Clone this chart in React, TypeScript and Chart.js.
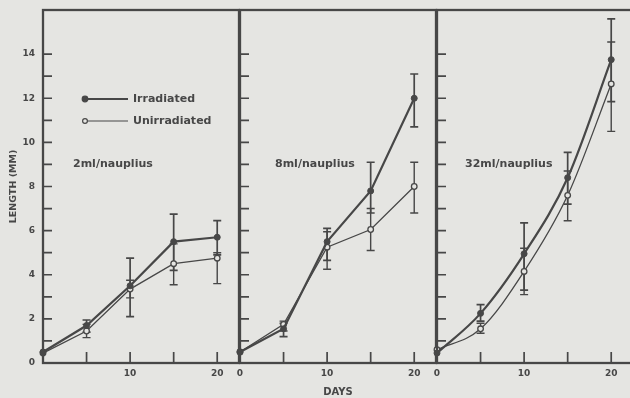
import React, { useEffect, useRef } from 'react';
import { Chart, registerables } from 'chart.js';
Chart.register(...registerables);

const days = [0, 5, 10, 15, 20];
const yTickLabels = [0, 2, 4, 6, 8, 10, 12, 14];
const yTickMarks = [1, 2, 3, 4, 5, 6, 7, 8, 9, 10, 11, 12, 13, 14];
const xTickMarks = [5, 10, 15, 20];
const xTicksAll = [0, 5, 10, 15, 20];
const xLabelsFirst = [10, 20];
const xLabelsOther = [0, 10, 20];

const panelLabels = ['2ml/nauplius', '8ml/nauplius', '32ml/nauplius'];
const seriesNames = ['Irradiated', 'Unirradiated'];
const yTitle = 'LENGTH (MM)';
const xTitle = 'DAYS';

// 2 ml / nauplius
const irr2 = [0.5, 1.7, 3.5, 5.5, 5.7];
const irr2Lo = [null, 1.4, 2.1, 4.2, 4.9];
const irr2Hi = [null, 1.95, 4.75, 6.75, 6.45];
const un2 = [0.45, 1.45, 3.35, 4.5, 4.75];
const un2Lo = [null, 1.15, 2.95, 3.55, 3.6];
const un2Hi = [null, 1.75, 3.75, 5.4, 5.0];

// 8 ml / nauplius
const irr8 = [0.5, 1.55, 5.5, 7.8, 12.0];
const irr8Lo = [null, 1.2, 4.65, 6.8, 10.7];
const irr8Hi = [null, 1.8, 6.1, 9.1, 13.1];
const un8 = [0.5, 1.75, 5.25, 6.05, 8.0];
const un8Lo = [null, 1.45, 4.25, 5.1, 6.8];
const un8Hi = [null, 1.9, 5.95, 7.0, 9.1];

// 32 ml / nauplius
const irr32 = [0.45, 2.25, 4.95, 8.4, 13.75];
const irr32Lo = [null, 1.9, 3.3, 7.2, 11.85];
const irr32Hi = [null, 2.65, 6.35, 9.55, 15.6];
const un32 = [0.6, 1.55, 4.15, 7.6, 12.65];
const un32Lo = [null, 1.35, 3.1, 6.45, 10.5];
const un32Hi = [null, 1.8, 5.2, 8.7, 14.55];

const INK = '#474747';
const BG = '#e5e5e2';
const FONT = '"DejaVu Sans", sans-serif';

const decorPlugin = {
  id: 'decor',
  beforeDatasetsDraw(chart: any) {
    const ctx = chart.ctx;
    const ys = chart.scales.y;
    chart.data.datasets.forEach((ds: any, i: number) => {
      const meta = chart.getDatasetMeta(i);
      ctx.save();
      ctx.strokeStyle = INK;
      ctx.lineWidth = i === 0 ? 1.7 : 1.4;
      meta.data.forEach((pt: any, j: number) => {
        const lo = ds.errLo[j];
        const hi = ds.errHi[j];
        if (lo == null || hi == null) return;
        const x = pt.x;
        const y1 = ys.getPixelForValue(lo);
        const y2 = ys.getPixelForValue(hi);
        ctx.beginPath();
        ctx.moveTo(x, y1);
        ctx.lineTo(x, y2);
        ctx.moveTo(x - 4, y1);
        ctx.lineTo(x + 4, y1);
        ctx.moveTo(x - 4, y2);
        ctx.lineTo(x + 4, y2);
        ctx.stroke();
      });
      ctx.restore();
    });
  },
  afterDraw(chart: any, _args: any, opts: any) {
    const ctx = chart.ctx;
    const a = chart.chartArea;
    const x = chart.scales.x;
    const y = chart.scales.y;
    ctx.save();
    ctx.strokeStyle = INK;
    ctx.lineWidth = 1.7;
    ctx.beginPath();
    yTickMarks.forEach((v) => {
      const py = y.getPixelForValue(v);
      ctx.moveTo(a.left, py);
      ctx.lineTo(a.left + 9, py);
    });
    xTickMarks.forEach((v) => {
      const px = x.getPixelForValue(v);
      ctx.moveTo(px, a.bottom);
      ctx.lineTo(px, a.bottom - 11);
    });
    ctx.stroke();
    ctx.lineWidth = 2.3;
    ctx.strokeRect(a.left, a.top, a.right - a.left, a.bottom - a.top);

    ctx.fillStyle = INK;
    ctx.textBaseline = 'middle';
    ctx.textAlign = 'left';
    ctx.font = `bold 11px ${FONT}`;
    ctx.fillText(opts.label, a.left + opts.labelDx, a.top + 154);

    if (opts.legend) {
      const cx = a.left + 42;
      const rows = [a.top + 89, a.top + 111];
      rows.forEach((ry, i) => {
        ctx.beginPath();
        ctx.lineWidth = i === 0 ? 1.8 : 1.2;
        ctx.moveTo(cx, ry);
        ctx.lineTo(a.left + 85, ry);
        ctx.stroke();
        ctx.beginPath();
        ctx.arc(cx, ry, i === 0 ? 2.8 : 2.4, 0, Math.PI * 2);
        ctx.fillStyle = i === 0 ? INK : BG;
        ctx.fill();
        ctx.lineWidth = 1.2;
        ctx.stroke();
        ctx.fillStyle = INK;
        ctx.fillText(seriesNames[i], a.left + 90, ry);
      });
    }
    ctx.restore();
  },
};

const zeroPad = (s: any) => {
  s.paddingTop = 0;
  s.paddingBottom = 0;
  s.paddingLeft = 0;
  s.paddingRight = 0;
};

type PanelProps = {
  left: number;
  width: number;
  yWidth: number;
  padRight: number;
  irr: number[];
  irrLo: (number | null)[];
  irrHi: (number | null)[];
  un: number[];
  unLo: (number | null)[];
  unHi: (number | null)[];
  xLabels: number[];
  yLabels: boolean;
  showXTitle: boolean;
  label: string;
  labelDx: number;
  legend: boolean;
  smooth: boolean;
};

function Panel(p: PanelProps) {
  const ref = useRef<HTMLCanvasElement | null>(null);
  useEffect(() => {
    if (!ref.current) return;
    const mode = p.smooth ? 'monotone' : 'default';
    const chart = new Chart(ref.current, {
      type: 'line',
      data: {
        datasets: [
          {
            label: seriesNames[0],
            data: days.map((d, i) => ({ x: d, y: p.irr[i] })),
            errLo: p.irrLo,
            errHi: p.irrHi,
            borderColor: INK,
            borderWidth: 2.2,
            pointRadius: 3,
            pointBackgroundColor: INK,
            pointBorderColor: INK,
            pointBorderWidth: 1,
            cubicInterpolationMode: mode,
            tension: 0,
            clip: false,
          } as any,
          {
            label: seriesNames[1],
            data: days.map((d, i) => ({ x: d, y: p.un[i] })),
            errLo: p.unLo,
            errHi: p.unHi,
            borderColor: INK,
            borderWidth: 1.3,
            pointRadius: 2.8,
            pointBackgroundColor: BG,
            pointBorderColor: INK,
            pointBorderWidth: 1.3,
            cubicInterpolationMode: mode,
            tension: 0,
            clip: false,
          } as any,
        ],
      },
      options: {
        animation: false,
        responsive: false,
        devicePixelRatio: 1,
        layout: { autoPadding: false, padding: { top: 10, right: p.padRight, left: 0, bottom: 0 } },
        plugins: {
          legend: { display: false },
          tooltip: { enabled: false },
          decor: { label: p.label, labelDx: p.labelDx, legend: p.legend },
        } as any,
        scales: {
          x: {
            type: 'linear',
            min: 0,
            max: 22.5,
            afterBuildTicks: (s: any) => {
              s.ticks = xTicksAll.map((v) => ({ value: v }));
            },
            afterFit: (s: any) => {
              s.height = 35;
              zeroPad(s);
            },
            grid: { display: false, drawTicks: false },
            border: { display: false },
            ticks: {
              autoSkip: false,
              maxRotation: 0,
              padding: 5,
              color: INK,
              font: { family: FONT, size: 9, weight: 'bold' },
              callback: (v: any) => (p.xLabels.includes(Number(v)) ? String(v) : ''),
            },
            title: {
              display: p.showXTitle,
              text: xTitle,
              color: INK,
              font: { family: FONT, size: 10, weight: 'bold' },
              padding: { top: 0, bottom: 0 },
            },
          },
          y: {
            type: 'linear',
            min: 0,
            max: 16,
            afterBuildTicks: (s: any) => {
              s.ticks = yTickLabels.map((v) => ({ value: v }));
            },
            afterFit: (s: any) => {
              s.width = p.yWidth;
              zeroPad(s);
            },
            grid: { display: false, drawTicks: false },
            border: { display: false },
            ticks: {
              display: p.yLabels,
              autoSkip: false,
              padding: 8,
              color: INK,
              font: { family: FONT, size: 9, weight: 'bold' },
            },
            title: {
              display: p.yLabels,
              text: yTitle,
              color: INK,
              font: { family: FONT, size: 9.5, weight: 'bold' },
              padding: { top: 8, bottom: 0 },
            },
          },
        },
      } as any,
      plugins: [decorPlugin],
    });
    return () => chart.destroy();
  }, []);
  return (
    <canvas
      ref={ref}
      width={p.width}
      height={398}
      style={{ position: 'absolute', left: p.left, top: 0, width: p.width, height: 398 }}
    />
  );
}

export default function App() {
  return (
    <div
      style={{
        position: 'absolute',
        left: 0,
        top: 0,
        width: 630,
        height: 398,
        background: BG,
        overflow: 'hidden',
      }}
    >
      <Panel
        left={0}
        width={240}
        yWidth={43}
        padRight={1}
        irr={irr2}
        irrLo={irr2Lo}
        irrHi={irr2Hi}
        un={un2}
        unLo={un2Lo}
        unHi={un2Hi}
        xLabels={xLabelsFirst}
        yLabels={true}
        showXTitle={false}
        label={panelLabels[0]}
        labelDx={30}
        legend={true}
        smooth={false}
      />
      <Panel
        left={230}
        width={210}
        yWidth={10}
        padRight={4}
        irr={irr8}
        irrLo={irr8Lo}
        irrHi={irr8Hi}
        un={un8}
        unLo={un8Lo}
        unHi={un8Hi}
        xLabels={xLabelsOther}
        yLabels={false}
        showXTitle={true}
        label={panelLabels[1]}
        labelDx={35}
        legend={false}
        smooth={false}
      />
      <Panel
        left={427}
        width={213}
        yWidth={10}
        padRight={7}
        irr={irr32}
        irrLo={irr32Lo}
        irrHi={irr32Hi}
        un={un32}
        unLo={un32Lo}
        unHi={un32Hi}
        xLabels={xLabelsOther}
        yLabels={false}
        showXTitle={false}
        label={panelLabels[2]}
        labelDx={28}
        legend={false}
        smooth={true}
      />
    </div>
  );
}
